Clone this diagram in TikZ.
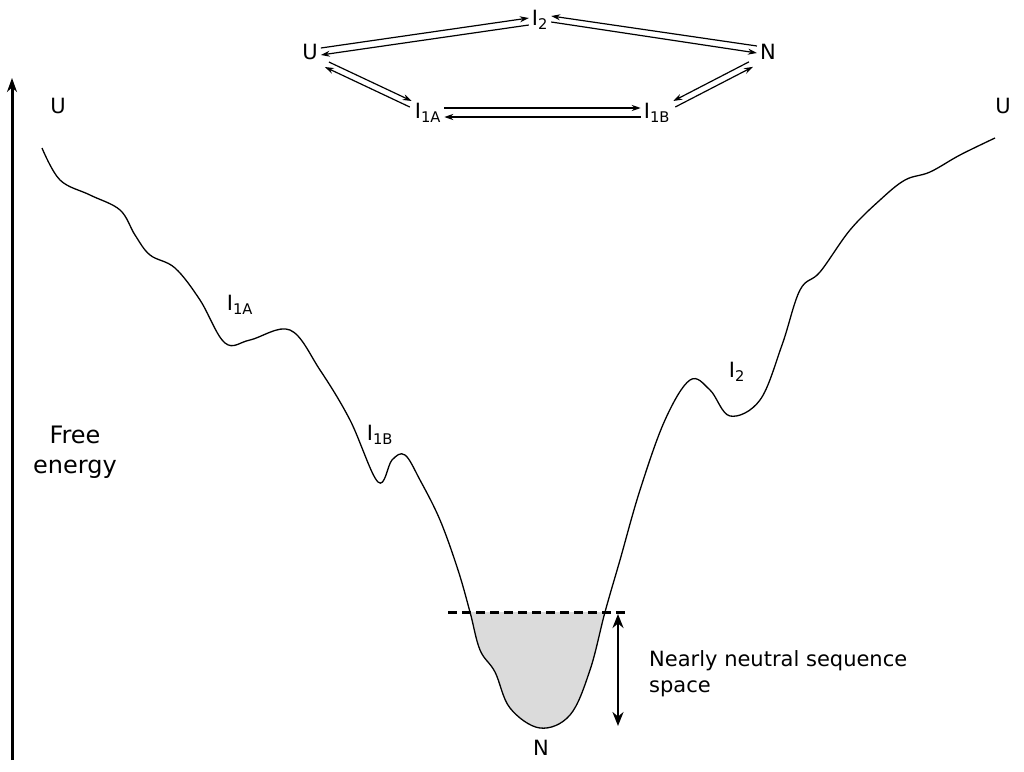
\documentclass[tikz,border=0pt]{standalone}
\usepackage{fontspec}
\setmainfont{DejaVu Sans}
\usetikzlibrary{arrows.meta}
\newcommand{\sbs}[1]{\textsubscript{#1}}
\begin{document}
\begin{tikzpicture}[x=1pt,y=-1pt,
  lab/.style={font=\fontsize{21}{24}\selectfont,inner sep=1pt},
  big/.style={font=\fontsize{24}{30}\selectfont,inner sep=1pt},
  ar/.style={-{Stealth[length=9pt,width=6pt]},line width=1.2pt}]
\useasboundingbox (0,0) rectangle (1024,771);
\def\curve{(42,148) (60,180) (90,195) (120,210) (135,235) (150,255) (175,268) (200,300) (225,343) (250,340) (290,330) (320,370) (350,420) (378,482) (392,460) (405,455) (420,480) (440,520) (458,570) (470,612) (480,650) (495,672) (510,708) (540,728) (570,715) (590,670) (605,612) (620,560) (640,490) (665,420) (690,380) (710,390) (730,416) (760,400) (782,345) (800,290) (820,272) (850,230) (880,200) (905,180) (930,172) (960,155) (995,138)}
\begin{scope}
\clip (440,612) rectangle (640,771);
\fill[gray!28] plot[smooth,tension=0.6] coordinates {\curve} -- (995,0) -- (42,0) -- cycle;
\end{scope}
\draw[line width=1.3pt] plot[smooth,tension=0.6] coordinates {\curve};
\draw[-{Stealth[length=14pt,width=10pt]},line width=3pt] (12,760) -- (12,78);
\node[big,align=center] (fe) at (75,452) {Free\\energy};
\node[lab] (ul) at (58,106) {U};
\node[lab] (ur) at (1003,106) {U};
\node[lab] (l1a) at (240,305) {I\sbs{1A}};
\node[lab] (l1b) at (380,435) {I\sbs{1B}};
\node[lab] (l2) at (737,372) {I\sbs{2}};
\node[lab] (ln) at (541,748) {N};
\coordinate (d1) at (448,612); \coordinate (d2) at (628,612);
\draw[dash pattern=on 9pt off 5pt,line width=3pt] (d1) -- (d2);
\coordinate (a1) at (618,614); \coordinate (a2) at (618,726);
\draw[{Stealth[length=14pt,width=11pt]}-{Stealth[length=14pt,width=11pt]},line width=2.5pt] (a1) -- (a2);
\node[lab,align=left,anchor=west] (nn) at (648,674) {Nearly neutral sequence\\[2pt]space};
% top scheme
\node[lab] (U) at (310,52) {U};
\node[lab] (I2) at (540,20) {I\sbs{2}};
\node[lab] (N) at (768,52) {N};
\node[lab] (IA) at (428,113) {I\sbs{1A}};
\node[lab] (IB) at (657,113) {I\sbs{1B}};
\draw[ar] ([shift={(2,-4)}]U.east) -- ([shift={(-2,-2)}]I2.west);
\draw[ar] ([shift={(-2,5)}]I2.west) -- ([shift={(2,3)}]U.east);
\draw[ar] ([shift={(-2,-6)}]N.west) -- ([shift={(2,-4)}]I2.east);
\draw[ar] ([shift={(2,2)}]I2.east) -- ([shift={(-2,1)}]N.west);
\draw[ar] ([shift={(-4,-6)}]IA.west) -- ([shift={(6,6)}]U.south east);
\draw[ar] ([shift={(10,1)}]U.south east) -- ([shift={(-2,-12)}]IA.west);
\draw[ar] ([shift={(2,-5)}]IA.east) -- ([shift={(-2,-5)}]IB.west);
\draw[ar] ([shift={(-2,4)}]IB.west) -- ([shift={(2,4)}]IA.east);
\draw[ar] ([shift={(-10,1)}]N.south west) -- ([shift={(2,-12)}]IB.east);
\draw[ar] ([shift={(4,-6)}]IB.east) -- ([shift={(-6,6)}]N.south west);
\end{tikzpicture}
\end{document}
